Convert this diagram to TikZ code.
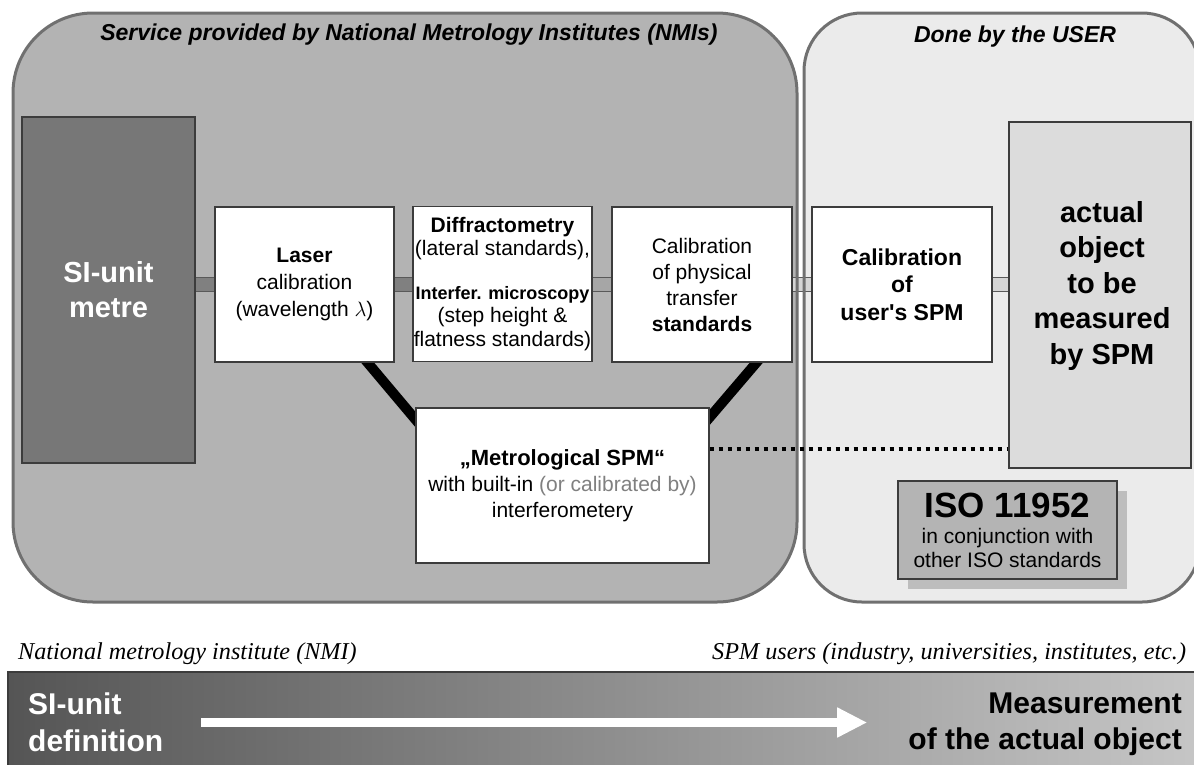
\documentclass[tikz,border=0pt]{standalone}
\usepackage{fontspec}
\setmainfont{Liberation Sans}
\newfontfamily\serifit{Liberation Serif}
\usepackage{tikz}
\usetikzlibrary{arrows.meta}
\usetikzlibrary{calc}
\usetikzlibrary{shadows}

\definecolor{nmifill}{HTML}{B3B3B3}
\definecolor{userfill}{HTML}{EBEBEB}
\definecolor{panelline}{HTML}{707070}
\definecolor{boxline}{HTML}{3C3C3C}
\definecolor{sifill}{HTML}{777777}
\definecolor{objfill}{HTML}{DCDCDC}
\definecolor{isofill}{HTML}{B4B4B4}
\definecolor{isoshade}{HTML}{BDBDBD}
\definecolor{flowdark}{HTML}{555555}
\definecolor{flowlight}{HTML}{C6C6C6}

\pgfdeclarelayer{back}
\pgfdeclarelayer{mid}
\pgfsetlayers{back,mid,main}

\tikzset{
  stage/.style={draw=boxline, line width=1.3pt, fill=white, align=center, inner sep=0pt,
    minimum width=179pt, minimum height=155pt},
  linkbar/.style={draw=boxline!85, line width=1pt, double distance=13pt, double=#1},
  spmleg/.style={line width=10pt, shorten <=-8pt, shorten >=-8pt},
  panelrim/.style={draw=panelline, line width=3pt},
  heading/.style={font=\bfseries\itshape\fontsize{23}{27}\selectfont},
  sidenote/.style={anchor=base west, inner sep=0pt, font=\serifit\itshape\fontsize{24.2}{28}\selectfont},
}

\begin{document}
\begin{tikzpicture}[x=1pt, y=-1pt]
    \useasboundingbox (0,0) rectangle (1194,764);

    % Panels
    \coordinate (nmiTL) at (13,13);
    \coordinate (nmiBR) at (797,602);
    \coordinate (usrTL) at (804,13);
    \coordinate (usrBR) at (1200,602);
    \begin{pgfonlayer}{back}
        \fill[nmifill, rounded corners=80pt] (nmiTL) rectangle (nmiBR);
        \fill[userfill, rounded corners=58pt] (usrTL) rectangle (usrBR);
    \end{pgfonlayer}

    \node[heading] (nmititle) at (409,35) {Service provided by National Metrology Institutes (NMIs)};
    \node[heading] (usrtitle) at (1015,37) {Done by the USER};

    % Chain of calibration steps
    \node[stage, fill=sifill, minimum width=173pt, minimum height=346pt, text=white,
          font=\bfseries\fontsize{29}{35}\selectfont] (si) at (108.5,290) {SI-unit\\metre};
    \node[stage, font=\fontsize{21}{27}\selectfont] (laser) at (304.5,284.5)
        {\textbf{Laser}\\calibration\\(wavelength $\lambda$)};
    \node[stage, font=\fontsize{21}{23.5}\selectfont] (diff) at (502.5,284)
        {\textbf{Diffractometry}\\(lateral standards),\\[20pt]{\bfseries\fontsize{18}{23.5}\selectfont Interfer. microscopy}\\(step height \&\\flatness standards)};
    \node[stage, minimum width=180pt, font=\fontsize{21}{26}\selectfont] (phys) at (702,284.5)
        {Calibration\\of physical\\transfer\\\textbf{standards}};
    \node[stage, minimum width=180pt, font=\bfseries\fontsize{23}{27.5}\selectfont] (user) at (902,284.5)
        {Calibration\\of\\user\textquotesingle s SPM};
    \node[stage, fill=objfill, minimum width=182pt, minimum height=346pt] (obj) at (1100,295) {};
    \node[align=center, font=\bfseries\fontsize{29}{35.5}\selectfont] (objtext) at (1102,285.5)
        {actual\\object\\to be\\measured\\by SPM};

    \node[stage, minimum width=293pt, font=\fontsize{21}{26}\selectfont] (spm) at (562.5,485.5)
        {{\bfseries\fontsize{22}{26}\selectfont „Metrological SPM“}\\with built-in \textcolor{gray}{(or calibrated by)}\\interferometery};

    \node[draw=boxline, line width=1.3pt, fill=isofill, minimum width=219pt, minimum height=98pt,
          inner sep=0pt, align=center, font=\fontsize{21}{24}\selectfont,
          drop shadow={shadow xshift=10pt, shadow yshift=-10pt, fill=isoshade, opacity=1}] (iso) at (1007.5,530)
        {{\bfseries\fontsize{35}{35}\selectfont ISO 11952}\\[2pt]in conjunction with\\other ISO standards};

    % Bars between the steps
    \begin{pgfonlayer}{mid}
        \draw[linkbar=black!50] (laser.west) -- (laser.west -| si.east);
        \draw[linkbar=black!50] (laser.east) -- (laser.east -| diff.west);
        \draw[linkbar=black!35] (phys.west) -- (phys.west -| diff.east);
        \draw[linkbar=black!17] (phys.east) -- (phys.east -| user.west);
        \draw[linkbar=black!17] (user.east) -- (user.east -| obj.west);
        \draw[panelrim, rounded corners=80pt] (nmiTL) rectangle (nmiBR);
        \draw[panelrim, rounded corners=58pt] (usrTL) rectangle (usrBR);
        \draw[spmleg] ($(laser.south west)!0.85!(laser.south east)$) -- ([yshift=-12pt]spm.north west);
        \draw[spmleg] ($(phys.south west)!0.8!(phys.south east)$) -- ([yshift=-10pt]spm.north east);
    \end{pgfonlayer}

    \coordinate (dotL) at ([yshift=36.5pt]spm.east);
    \draw[line width=4pt, dash pattern=on 4.5pt off 4.5pt] (dotL) -- (dotL -| obj.west);

    % Flow from NMI to user
    \node[sidenote] (nmilabel) at (18,659) {National metrology institute (NMI)};
    \node[sidenote] (usrlabel) at (712,659) {SPM users (industry, universities, institutes, etc.)};

    \shade[left color=flowdark, right color=flowlight] (8,672) rectangle (1200,770);
    \draw[boxline, line width=1.5pt] (8,770) -- (8,672) -- (1200,672);

    \node[anchor=west, inner sep=0pt, align=left, text=white,
          font=\bfseries\fontsize{30}{37}\selectfont] (sidef) at (28,722.5) {SI-unit\\definition};
    \node[anchor=east, inner sep=0pt, align=right,
          font=\bfseries\fontsize{30}{36}\selectfont] (meas) at (1182,724) {Measurement\\of the actual object};
    \draw[white, line width=9pt, -{Triangle[length=30pt, width=28pt]}, shorten <=38pt, shorten >=41pt]
        (sidef.east) -- (sidef.east -| meas.west);
\end{tikzpicture}
\end{document}
